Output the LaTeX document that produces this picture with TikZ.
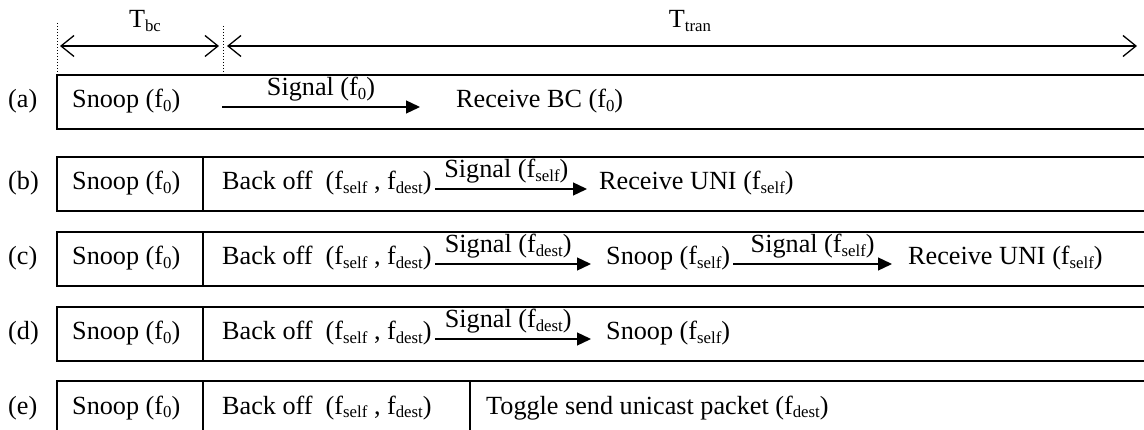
\documentclass[tikz,border=0pt]{standalone}
\usepackage{fontspec}
\setmainfont{Liberation Serif}
\usetikzlibrary{arrows.meta}
\newcommand\lo[1]{\raisebox{-3.5pt}{\fontsize{16.8}{17}\selectfont #1}}
\begin{document}
\begin{tikzpicture}[x=1pt,y=-1pt,
  txt/.style={anchor=base west, inner sep=0pt, font=\fontsize{26.2}{30}\selectfont},
  lbl/.style={anchor=base, inner sep=0pt, font=\fontsize{26.2}{30}\selectfont},
  box/.style={line width=1.9pt},
  sig/.style={line width=1.3pt, -{Triangle[length=14pt,width=13pt]}},
  span/.style={line width=1.3pt, {Straight Barb[length=13pt,width=21pt]}-{Straight Barb[length=13pt,width=21pt]}},
  dots/.style={dotted, line width=1pt}]
\useasboundingbox (0,0) rectangle (1144,430);
\clip (0,0) rectangle (1144,430);
\fill[white] (0,0) rectangle (1144,430);
% header
\coordinate (d1t) at (57,23); \coordinate (d1b) at (57,72);
\coordinate (d2t) at (223,26); \coordinate (d2b) at (223,72);
\draw[dots] (d1t) -- (d1b);
\draw[dots] (d2t) -- (d2b);
\coordinate (h1) at (60,46); \coordinate (h2) at (219,46);
\coordinate (h3) at (227,46); \coordinate (h4) at (1137,46);
\draw[span] (h1) -- (h2);
\draw[span] (h3) -- (h4);
\node[lbl] (tbc) at (145,28) {T\lo{bc}};
\node[lbl] (ttran) at (690,28) {T\lo{tran}};
% row a
\draw[box] (57,75) rectangle (1160,129);
\node[txt] (la) at (8,108) {(a)};
\node[txt] (sa) at (72,108) {Snoop (f\lo{0})};
\node[txt] (ra) at (456,108) {Receive BC (f\lo{0})};
\coordinate (asig) at (222,107);
\draw[sig] (asig) -- ([xshift=-36pt,yshift=1pt]ra.base west)
  node[pos=0.5, lbl, yshift=11pt] (ga) {Signal (f\lo{0})};
% row b
\draw[box] (57,157) rectangle (1160,211);
\draw[box] (203,157) -- (203,211);
\node[txt] (lb) at (8,190) {(b)};
\node[txt] (sb) at (72,190) {Snoop (f\lo{0})};
\node[txt] (bb) at (222,190) {Back off\ \ (f\lo{self} , f\lo{dest})};
\node[txt] (rb) at (599,190) {Receive UNI (f\lo{self})};
\draw[sig] ([xshift=3pt,yshift=1pt]bb.base east) -- ([xshift=-12pt,yshift=1pt]rb.base west)
  node[pos=0.47, lbl, yshift=11pt] (gb) {Signal (f\lo{self})};
% row c
\draw[box] (57,232) rectangle (1160,286);
\draw[box] (203,232) -- (203,286);
\node[txt] (lc) at (8,265) {(c)};
\node[txt] (sc) at (72,265) {Snoop (f\lo{0})};
\node[txt] (bc) at (222,265) {Back off\ \ (f\lo{self} , f\lo{dest})};
\node[txt] (nc) at (606,265) {Snoop (f\lo{self})};
\node[txt] (rc) at (908,265) {Receive UNI (f\lo{self})};
\draw[sig] ([xshift=3pt,yshift=1pt]bc.base east) -- ([xshift=-15pt,yshift=1pt]nc.base west)
  node[pos=0.47, lbl, yshift=11pt] (gc1) {Signal (f\lo{dest})};
\draw[sig] ([xshift=3pt,yshift=1pt]nc.base east) -- ([xshift=-16pt,yshift=1pt]rc.base west)
  node[pos=0.5, lbl, yshift=11pt] (gc2) {Signal (f\lo{self})};
% row d
\draw[box] (57,307) rectangle (1160,361);
\draw[box] (203,307) -- (203,361);
\node[txt] (ld) at (8,340) {(d)};
\node[txt] (sd) at (72,340) {Snoop (f\lo{0})};
\node[txt] (bd) at (222,340) {Back off\ \ (f\lo{self} , f\lo{dest})};
\node[txt] (nd) at (606,340) {Snoop (f\lo{self})};
\draw[sig] ([xshift=3pt,yshift=1pt]bd.base east) -- ([xshift=-15pt,yshift=1pt]nd.base west)
  node[pos=0.47, lbl, yshift=11pt] (gd) {Signal (f\lo{dest})};
% row e
\draw[box] (57,381) rectangle (1160,440);
\draw[box] (203,381) -- (203,440);
\draw[box] (470,381) -- (470,440);
\node[txt] (le) at (8,414) {(e)};
\node[txt] (se) at (72,414) {Snoop (f\lo{0})};
\node[txt] (be) at (222,414) {Back off\ \ (f\lo{self} , f\lo{dest})};
\node[txt] (te) at (486,414) {Toggle send unicast packet (f\lo{dest})};
\end{tikzpicture}
\end{document}
